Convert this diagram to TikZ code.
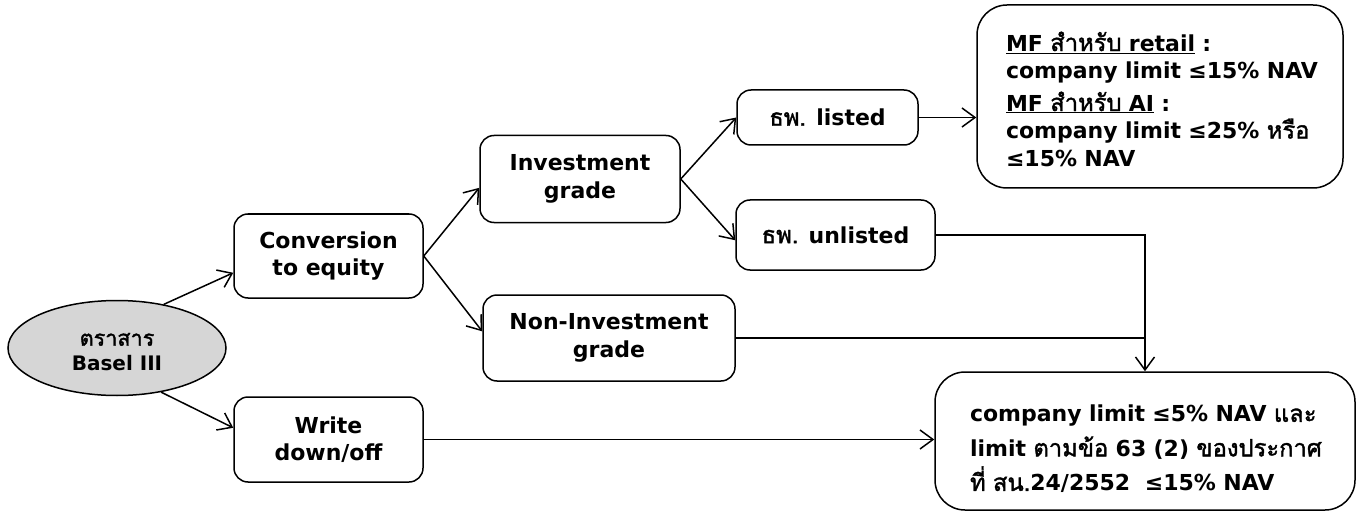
\documentclass[tikz,border=0pt]{standalone}
\usepackage{fontspec}
\setmainfont{DejaVu Sans}
\newfontfamily\thfont[Script=Thai,AutoFakeBold=1.6,Scale=1.08]{Loma}
\newcommand{\thx}[1]{{\thfont #1}}
\usetikzlibrary{shapes.geometric,arrows.meta,calc}
\tikzset{
  box/.style={draw, line width=1.5pt, rounded corners=14pt, align=center, inner sep=0pt,
    font=\fontsize{22}{27.5}\selectfont\bfseries},
  bigbox/.style={draw, line width=1.5pt, rounded corners=30pt, inner sep=0pt},
  bigtext/.style={align=left, inner sep=0pt, font=\fontsize{22}{27.5}\selectfont\bfseries},
  ell/.style={draw, ellipse, line width=1.5pt, fill=gray!32, align=center, inner sep=0pt,
    font=\fontsize{20}{25}\selectfont\bfseries},
  arr/.style={line width=1.5pt, -{Straight Barb[length=13pt,width=19pt,line width=1.5pt]}},
  ln/.style={line width=1.5pt}
}
\begin{document}
\begin{tikzpicture}[x=1pt,y=-1pt]
\useasboundingbox (0,0) rectangle (1362,513);
\node[ell, minimum width=218pt, minimum height=95pt] (basel) at (117,348) {};
\node[ell, draw=none, fill=none] (baseltext) at (117,352) {\thx{ตราสาร}\\Basel III};
\node[box, minimum width=189pt, minimum height=84pt] (conv) at (328.5,256) {Conversion\\to equity};
\node[box, minimum width=189pt, minimum height=85pt] (write) at (328.5,439.5) {Write\\down/off};
\node[box, minimum width=200pt, minimum height=87pt] (inv) at (580,179) {Investment\\grade};
\node[box, minimum width=252pt, minimum height=86pt] (noninv) at (609,338) {Non-Investment\\grade};
\node[box, minimum width=181pt, minimum height=55pt] (listed) at (827.5,117.5) {\thx{ธพ.} listed};
\node[box, minimum width=199pt, minimum height=70pt] (unlisted) at (835.5,235) {\thx{ธพ.} unlisted};
\node[bigbox, minimum width=366pt, minimum height=183pt] (mf) at (1160,96.5) {};
\node[bigtext, text width=314pt] (mftext) at (1163,99)
  {\underline{MF \thx{สำหรับ} retail} :\\
   company limit ≤15\% NAV\\[5pt]
   \underline{MF \thx{สำหรับ} AI} :\\
   company limit ≤25\% \thx{หรือ}\\
   ≤15\% NAV};
\node[bigbox, minimum width=420pt, minimum height=138pt] (res) at (1145,441) {};
\node[bigtext, text width=356pt, font=\fontsize{22}{34.5}\selectfont\bfseries] (restext) at (1148,449)
  {company limit ≤5\% NAV \thx{และ}\\
   limit \thx{ตามข้อ} 63 (2) \thx{ของประกาศ}\\
   \thx{ที่ สน.}24/2552 \ ≤15\% NAV};
\draw[arr] (basel.43) -- (conv.190);
\draw[arr] (basel.315) -- (write.173);
\draw[arr] (conv.east) -- (inv.185);
\draw[arr] (conv.east) -- (noninv.177);
\draw[arr] (inv.east) -- (listed.west);
\draw[arr] (inv.east) -- (unlisted.183);
\draw[arr] (listed.east) -- (listed.east -| mf.west);
\draw[arr] (unlisted.east) -| (res.north);
\draw[ln] (noninv.east) -- (noninv.east -| res.north);
\draw[arr] (write.east) -- (write.east -| res.west);
\end{tikzpicture}
\end{document}
